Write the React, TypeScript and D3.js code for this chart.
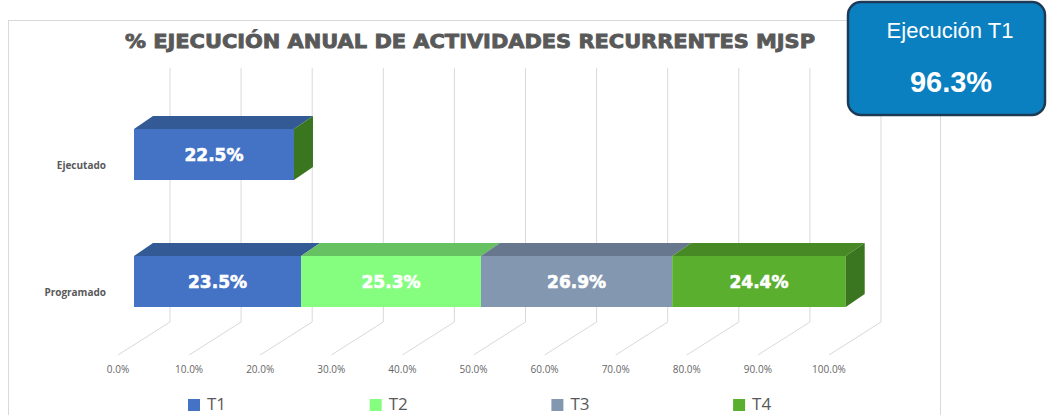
import React from "react";
import * as d3 from "d3";

const categories = ["Ejecutado", "Programado"];
const seriesNames = ["T1", "T2", "T3", "T4"];
const ejecutado = [22.5, 0, 0, 0];
const programado = [23.5, 25.3, 26.9, 24.4];
const tickValues = [0, 10, 20, 30, 40, 50, 60, 70, 80, 90, 100];
const title = "% EJECUCIÓN ANUAL DE ACTIVIDADES RECURRENTES MJSP";
const badgeLabel = "Ejecución T1";
const badgeValue = "96.3%";

const frontColors = ["#4472c4", "#85fe7f", "#8497b0", "#5aaf2e"];
const topColors = ["#345a96", "#66c163", "#67778d", "#478a25"];
const sideColors = ["#2f5597", "#4ea34a", "#56657a", "#3a7520"];

export default function App() {
  const W = 1047;
  const H = 415;

  // 3D planes
  const backX0 = 170;
  const wallTop = 68;
  const wallBottom = 322;
  const floorX0 = 118;
  const floorY = 355;
  const barX0 = 134;
  const depthDx = 19;
  const depthDy = -13;
  const barH = 51;

  const x = d3.scaleLinear().domain([0, 100]).range([0, 711]);
  const y = d3.scalePoint<string>().domain(categories).range([129, 256]);

  const rows = [ejecutado, programado].map((vals, i) => {
    const r: any = { cat: categories[i] };
    seriesNames.forEach((s, j) => (r[s] = vals[j]));
    return r;
  });
  const stacked = d3.stack().keys(seriesNames)(rows);

  const fmt = d3.format(".1f");

  return (
    <svg width={W} height={H} style={{ position: "absolute", left: 0, top: 0, display: "block" }}>
      <rect x={0} y={0} width={W} height={H} fill="#fff" />
      <rect x={8.5} y={20.5} width={932} height={430} fill="#fff" stroke="#d9d9d9" strokeWidth={1} />

      <text
        x={470}
        y={48}
        textAnchor="middle"
        fontFamily="DejaVu Sans"
        fontWeight="bold"
        fontSize={20}
        fill="#595959"
        stroke="#595959"
        strokeWidth={0.9}
        textLength={690}
        lengthAdjust="spacingAndGlyphs"
      >
        {title}
      </text>

      {/* gridlines: back wall + floor */}
      <g stroke="#d9d9d9" strokeWidth={1} fill="none">
        {tickValues.map((v) => (
          <polyline
            key={v}
            points={`${backX0 + x(v)},${wallTop} ${backX0 + x(v)},${wallBottom} ${floorX0 + x(v)},${floorY}`}
          />
        ))}
      </g>

      {/* bars */}
      {categories.map((cat, ci) => {
        const y0 = y(cat)!;
        const segs = stacked.map((layer, si) => ({ si, a: layer[ci][0], b: layer[ci][1] }));
        const end = segs[segs.length - 1].b;
        const xe = barX0 + x(end);
        return (
          <g key={cat}>
            {segs.map(({ si, a, b }) => {
              const xa = barX0 + x(a);
              const xb = barX0 + x(b);
              if (b - a <= 0) return null;
              return (
                <g key={si}>
                  <polygon
                    points={`${xa},${y0} ${xa + depthDx},${y0 + depthDy} ${xb + depthDx},${y0 + depthDy} ${xb},${y0}`}
                    fill={topColors[si]}
                  />
                  <rect x={xa} y={y0} width={xb - xa} height={barH} fill={frontColors[si]} />
                  <text
                    x={(xa + xb) / 2}
                    y={y0 + barH / 2 + 6}
                    textAnchor="middle"
                    fontFamily="DejaVu Sans"
                    fontWeight="bold"
                    fontSize={17}
                    fill="#fff"
                    stroke="#fff"
                    strokeWidth={0.6}
                  >
                    {fmt(b - a)}%
                  </text>
                </g>
              );
            })}
            <polygon
              points={`${xe},${y0} ${xe + depthDx},${y0 + depthDy} ${xe + depthDx},${y0 + barH + depthDy} ${xe},${y0 + barH}`}
              fill={sideColors[seriesNames.length - 1]}
            />
            <text
              x={106}
              y={y0 + barH / 2 + 14}
              textAnchor="end"
              fontFamily="Open Sans"
              fontWeight="bold"
              fontSize={10}
              fill="#595959"
            >
              {cat}
            </text>
          </g>
        );
      })}

      {/* tick labels */}
      {tickValues.map((v) => (
        <text
          key={v}
          x={floorX0 + x(v)}
          y={373}
          textAnchor="middle"
          fontFamily="Open Sans"
          fontSize={10}
          fill="#666"
        >
          {fmt(v)}%
        </text>
      ))}

      {/* legend */}
      {seriesNames.map((s, i) => (
        <g key={s} transform={`translate(${188 + i * 181.7},399)`}>
          <rect x={0} y={0} width={12} height={12} fill={frontColors[i]} />
          <text x={19} y={11} fontFamily="Open Sans" fontSize={17} fill="#595959">
            {s}
          </text>
        </g>
      ))}

      {/* badge */}
      <rect x={848} y={2} width={197} height={113} rx={13} ry={13} fill="#0a80c1" stroke="#1c3a56" strokeWidth={2.5} />
      <text x={950} y={38} textAnchor="middle" fontFamily="Liberation Sans" fontSize={22} fill="#fff">
        {badgeLabel}
      </text>
      <text x={951} y={92} textAnchor="middle" fontFamily="Liberation Sans" fontWeight="bold" fontSize={29} fill="#fff">
        {badgeValue}
      </text>
    </svg>
  );
}
